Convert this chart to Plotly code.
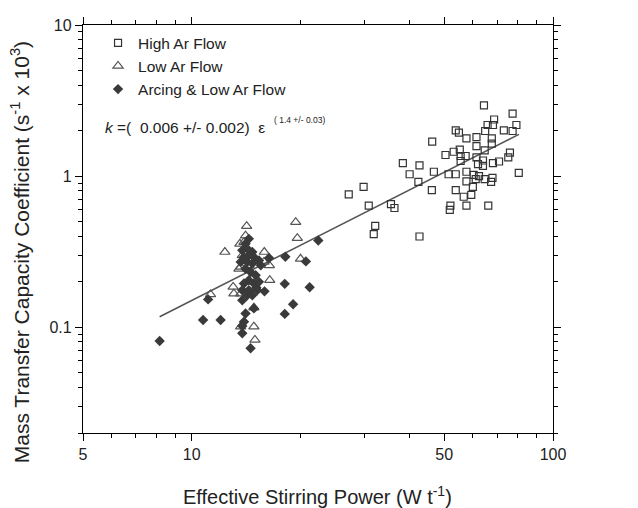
import plotly.graph_objects as go

# High Ar Flow (squares)
high_x = [64.4, 77.3, 68.7, 65.9, 68.2, 79.2, 64.9, 73.1, 77.3, 53.8, 54.9, 57.6, 61.4, 67.7,
          46.3, 61.4, 67.7, 53.1, 55.2, 50.4, 64.7, 76.0, 75.2, 55.5, 57.3, 55.5, 61.4, 64.0,
          62.0, 64.0, 68.2, 70.9, 38.4, 42.7, 40.1, 46.8, 51.4, 53.8, 57.6, 60.3, 62.4, 61.1,
          64.7, 67.4, 68.0, 57.6, 80.4, 42.4, 29.9, 27.2, 46.2, 53.8, 60.0, 59.4, 56.6, 30.9,
          35.6, 36.4, 52.0, 51.8, 57.6, 66.2, 32.2, 31.9, 42.7]
high_y = [2.94, 2.59, 2.37, 2.18, 2.18, 2.18, 1.99, 2.01, 1.99, 2.01, 1.94, 1.78, 1.81, 1.78,
          1.69, 1.58, 1.64, 1.45, 1.50, 1.38, 1.48, 1.43, 1.33, 1.36, 1.36, 1.26, 1.33, 1.27,
          1.20, 1.17, 1.22, 1.25, 1.22, 1.18, 1.03, 1.07, 1.03, 1.03, 1.07, 1.02, 1.00, 0.955,
          0.955, 0.917, 0.975, 0.923, 1.05, 0.917, 0.850, 0.758, 0.809, 0.809, 0.850, 0.753,
          0.731, 0.638, 0.654, 0.616, 0.638, 0.598, 0.638, 0.638, 0.469, 0.414, 0.399]

# Low Ar Flow (triangles)
low_x = [14.19, 14.09, 13.59, 13.95, 12.35, 15.88, 15.85, 13.80, 13.66, 13.51, 14.39, 16.44,
         13.02, 13.08, 13.66, 11.27, 14.86, 13.66, 14.86, 14.96, 19.4, 19.6, 20.0, 16.4]
low_y = [0.467, 0.404, 0.357, 0.366, 0.315, 0.315, 0.271, 0.299, 0.251, 0.244, 0.257, 0.205,
         0.185, 0.167, 0.167, 0.165, 0.135, 0.101, 0.101, 0.0825, 0.496, 0.389, 0.284, 0.257]

# Arcing & Low Ar Flow (diamonds)
arc_x = [8.15, 10.75, 12.02, 11.10, 13.80, 14.55, 14.09, 14.86, 13.95, 18.09, 19.08, 18.09,
         21.2, 18.16, 20.7, 22.4, 16.37, 15.9, 15.1, 13.80, 14.24, 14.71, 14.39, 13.95, 14.86,
         13.66, 14.24, 14.71, 15.35, 14.09, 14.55, 15.03, 14.39, 13.95, 14.86, 15.35, 13.80,
         14.39, 15.18, 14.24, 14.71, 13.80, 15.53, 14.09, 14.39, 13.80]
arc_y = [0.0813, 0.1117, 0.1117, 0.153, 0.0914, 0.0728, 0.1236, 0.1334, 0.109, 0.1227, 0.1423,
         0.194, 0.184, 0.293, 0.273, 0.375, 0.2874, 0.173, 0.183, 0.323, 0.331, 0.315, 0.299,
         0.292, 0.292, 0.271, 0.271, 0.264, 0.277, 0.244, 0.2325, 0.221, 0.205, 0.195, 0.195,
         0.200, 0.176, 0.176, 0.176, 0.163, 0.163, 0.151, 0.257, 0.357, 0.385, 0.102]

# Fit line endpoints
fit_x = [8.15, 80.5]
fit_y = [0.1175, 1.89]

x_ticks = [5, 10, 50, 100]
x_ticktext = ["5", "10", "50", "100"]
x_minor = [6, 7, 8, 9, 20, 30, 40, 60, 70, 80, 90]
y_ticks = [0.1, 1, 10]
y_ticktext = ["0.1", "1", "10"]
y_minor = [0.02, 0.03, 0.04, 0.05, 0.06, 0.07, 0.08, 0.09,
           0.2, 0.3, 0.4, 0.5, 0.6, 0.7, 0.8, 0.9,
           2, 3, 4, 5, 6, 7, 8, 9]

FONT = "Liberation Sans, Arial, sans-serif"
TXT = "#222222"

fig = go.Figure()
fig.add_trace(go.Scatter(x=fit_x, y=fit_y, mode="lines", line=dict(color="#555555", width=1.5),
                         showlegend=False, hoverinfo="skip"))
fig.add_trace(go.Scatter(x=high_x, y=high_y, mode="markers", name="High Ar Flow",
                         marker=dict(symbol="square-open", size=7, color="#333333",
                                     line=dict(width=1.2, color="#333333"))))
fig.add_trace(go.Scatter(x=low_x, y=low_y, mode="markers", name="Low Ar Flow",
                         marker=dict(symbol="triangle-up-open", size=9, color="#555555",
                                     line=dict(width=1.2, color="#555555"))))
fig.add_trace(go.Scatter(x=arc_x, y=arc_y, mode="markers", name="Arcing & Low Ar Flow",
                         marker=dict(symbol="diamond", size=8, color="#3a3a3a",
                                     line=dict(width=0))))

axis_common = dict(
    type="log", showgrid=False, zeroline=False, showline=True, linecolor="black",
    linewidth=1.3, mirror="allticks", ticks="outside", ticklen=7, tickwidth=1.3,
    tickcolor="black", tickfont=dict(family=FONT, size=16, color=TXT),
)

fig.update_layout(
    width=638, height=508,
    margin=dict(l=83, r=85, t=25, b=75),
    paper_bgcolor="white", plot_bgcolor="white",
    font=dict(family=FONT, color=TXT),
    xaxis=dict(**axis_common, range=[0.69897, 2], tickmode="array",
               tickvals=x_ticks, ticktext=x_ticktext,
               minor=dict(tickmode="array", tickvals=x_minor, ticks="outside", ticklen=4,
                          tickwidth=1.2, tickcolor="black")),
    yaxis=dict(**axis_common, range=[-1.69897, 1], tickmode="array",
               tickvals=y_ticks, ticktext=y_ticktext,
               minor=dict(tickmode="array", tickvals=y_minor, ticks="outside", ticklen=4,
                          tickwidth=1.2, tickcolor="black")),
    legend=dict(x=0.032, y=0.997, xanchor="left", yanchor="top", bgcolor="rgba(0,0,0,0)",
                font=dict(family=FONT, size=15.5, color=TXT), itemwidth=30,
                tracegroupgap=0),
    showlegend=True,
)

# axis titles
fig.add_annotation(xref="paper", yref="paper", x=0.498, y=-0.152, xanchor="center",
                   yanchor="middle", showarrow=False,
                   text="Effective Stirring Power (W t<sup>-1</sup>)",
                   font=dict(family=FONT, size=20, color=TXT))
fig.add_annotation(xref="paper", yref="paper", x=-0.134, y=0.443, xanchor="center",
                   yanchor="middle", showarrow=False, textangle=-90,
                   text="Mass Transfer Capacity Coefficient (s<sup>-1</sup> x 10<sup>3</sup>)",
                   font=dict(family=FONT, size=21, color=TXT))

# fit equation
fig.add_annotation(xref="paper", yref="paper", x=0.0426, y=0.75, xanchor="left", yanchor="middle",
                   text="<i>k</i> =(  0.006 +/- 0.002)  ε", showarrow=False,
                   font=dict(family=FONT, size=15.5, color=TXT))
fig.add_annotation(xref="paper", yref="paper", x=0.402, y=0.768, xanchor="left", yanchor="middle",
                   text="( 1.4 +/- 0.03)", showarrow=False,
                   font=dict(family=FONT, size=8.5, color=TXT))

fig.write_html("out.html")
